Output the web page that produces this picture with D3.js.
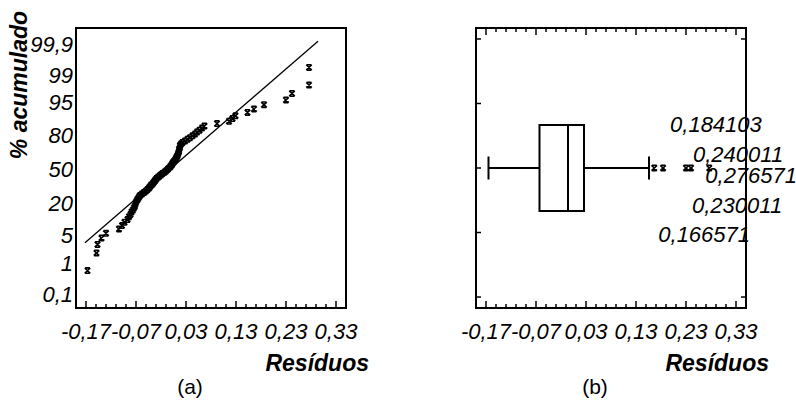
<!DOCTYPE html>
<html>
<head>
<meta charset="utf-8">
<script src="https://cdn.jsdelivr.net/npm/d3@7"></script>
<style>
  body { margin: 0; background: #fff; }
  svg { display: block; font-family: "Liberation Sans", Arial, sans-serif; }
</style>
</head>
<body>
<svg id="chart" width="796" height="401"></svg>
<script>
// sorted residuals (a)
const residuals = [
  -0.167, -0.149, -0.147, -0.139, -0.130, -0.104, -0.098, -0.093, -0.087, -0.084,
  -0.081, -0.079, -0.076, -0.074, -0.072, -0.071, -0.070, -0.068, -0.066, -0.064,
  -0.062, -0.058, -0.054, -0.050, -0.047, -0.044, -0.042, -0.040, -0.037, -0.035,
  -0.033, -0.031, -0.029, -0.026, -0.023, -0.020, -0.017, -0.013, -0.010, -0.007,
  -0.005, -0.002, 0.000, 0.002, 0.003, 0.005, 0.007, 0.009, 0.010, 0.012,
  0.013, 0.014, 0.015, 0.016, 0.016, 0.017, 0.018, 0.018, 0.020, 0.023,
  0.028, 0.033, 0.038, 0.043, 0.048, 0.052, 0.057, 0.062, 0.067, 0.092,
  0.116, 0.123, 0.129, 0.153, 0.166, 0.186, 0.230, 0.242, 0.276, 0.276
];
// cumulative percentage of each point
const cumPct = [
  0.6, 1.9, 3.1, 4.4, 5.6, 6.9, 8.1, 9.4, 10.6, 11.9,
  13.1, 14.4, 15.6, 16.9, 18.1, 19.4, 20.6, 21.9, 23.1, 24.4,
  25.6, 26.9, 28.1, 29.4, 30.6, 31.9, 33.1, 34.4, 35.6, 36.9,
  38.1, 39.4, 40.6, 41.9, 43.1, 44.4, 45.6, 46.9, 48.1, 49.4,
  50.6, 51.9, 53.1, 54.4, 55.6, 56.9, 58.1, 59.4, 60.6, 61.9,
  63.1, 64.4, 65.6, 66.9, 68.1, 69.4, 70.6, 71.9, 73.1, 74.4,
  75.6, 76.9, 78.1, 79.4, 80.6, 81.9, 83.1, 84.4, 85.6, 86.9,
  88.1, 89.4, 90.6, 91.9, 93.1, 94.4, 95.6, 96.9, 98.1, 99.4
];
const fitLine = [[-0.172, 3.42], [0.294, 99.92]];

const probTicks = [0.1, 1, 5, 20, 50, 80, 95, 99, 99.9];
const probLabels = ["0,1", "1", "5", "20", "50", "80", "95", "99", "99,9"];
const xTicks = [-0.17, -0.07, 0.03, 0.13, 0.23, 0.33];

// box plot (b): min, q1, median, q3, max whisker
const boxStats = [-0.165, -0.063, -0.006, 0.026, 0.156];
const outliers = [0.166571, 0.184103, 0.230011, 0.240011, 0.276571];
const outlierLabels = ["0,166571", "0,184103", "0,230011", "0,240011", "0,276571"];

const W = 270, H = 280;
const svg = d3.select("#chart");

const fmt = d3.formatLocale({ decimal: ",", thousands: ".", grouping: [3], currency: ["", ""], minus: "-" }).format(".2f");

// inverse normal cdf (Acklam) for the probability axis
function probit(p) {
    const a = [-39.69683028665376, 220.9460984245205, -275.9285104469687, 138.3577518672690, -30.66479806614716, 2.506628277459239];
    const b = [-54.47609879822406, 161.5858368580409, -155.6989798598866, 66.80131188771972, -13.28068155288572];
    const c = [-0.007784894002430293, -0.3223964580411365, -2.400758277161838, -2.549732539343734, 4.374664141464968, 2.938163982698783];
    const d = [0.007784695709041462, 0.3224671290700398, 2.445134137142996, 3.754408661907416];
    const pl = 0.02425;
    if (p < pl) {
        const q = Math.sqrt(-2 * Math.log(p));
        return (((((c[0]*q+c[1])*q+c[2])*q+c[3])*q+c[4])*q+c[5]) / ((((d[0]*q+d[1])*q+d[2])*q+d[3])*q+1);
    }
    if (p > 1 - pl) {
        const q = Math.sqrt(-2 * Math.log(1 - p));
        return -(((((c[0]*q+c[1])*q+c[2])*q+c[3])*q+c[4])*q+c[5]) / ((((d[0]*q+d[1])*q+d[2])*q+d[3])*q+1);
    }
    const q = p - 0.5, r = q * q;
    return (((((a[0]*r+a[1])*r+a[2])*r+a[3])*r+a[4])*r+a[5])*q / (((((b[0]*r+b[1])*r+b[2])*r+b[3])*r+b[4])*r+1);
}

const glyph = "M-2.8,-2.6L2.8,2.6M2.8,-2.6L-2.8,2.6M-2.4,-2.7H2.4M-2.4,2.7H2.4";

function panelBase(tx, ty, topTicks) {
    const g = svg.append("g").attr("transform", `translate(${tx},${ty})`);
    const x = d3.scaleLinear().domain([-0.19, 0.35]).range([0, W]);
    const minor = d3.range(-0.17, 0.3301, 0.02);

    const ticks = g.append("g");
    ticks.selectAll(".tb").data(minor).join("line")
        .attr("x1", d => x(d)).attr("x2", d => x(d))
        .attr("y1", H).attr("y2", (d, i) => H - (i % 5 === 0 ? 7 : 4))
        .attr("stroke", "#000").attr("stroke-width", 1.5);
    if (topTicks) {
        ticks.selectAll(".tt").data(minor).join("line")
            .attr("x1", d => x(d)).attr("x2", d => x(d))
            .attr("y1", 0).attr("y2", (d, i) => (i % 5 === 0 ? 7 : 4))
            .attr("stroke", "#000").attr("stroke-width", 1.5);
    }

    g.selectAll(".xl").data(xTicks).join("text")
        .attr("x", d => x(d)).attr("y", H + 31)
        .attr("text-anchor", "middle")
        .style("font-size", "22px").style("font-style", "italic")
        .text(d => fmt(d));

    g.append("text")
        .attr("x", W + 23).attr("y", H + 63)
        .attr("text-anchor", "end")
        .style("font-size", "23px").style("font-weight", "bold").style("font-style", "italic")
        .text("Resíduos");

    return { g, x };
}

// ---- (a) normal probability plot
{
    const { g, x } = panelBase(76, 28, false);
    const yZ = d3.scaleLinear().domain([-3.09, 3.09]).range([266, 16]);
    const y = p => yZ(probit(p / 100));

    g.selectAll(".yl").data(probTicks).join("text")
        .attr("x", -3).attr("y", d => y(d)).attr("dy", "0.36em")
        .attr("text-anchor", "end")
        .style("font-size", "22px").style("font-style", "italic")
        .text((d, i) => probLabels[i]);

    g.append("path")
        .attr("d", d3.line().x(d => x(d[0])).y(d => y(d[1]))(fitLine))
        .attr("fill", "none").attr("stroke", "#000").attr("stroke-width", 1.3);

    g.selectAll(".pt").data(residuals).join("path")
        .attr("transform", (d, i) => `translate(${x(d)},${y(cumPct[i])})`)
        .attr("d", glyph)
        .attr("fill", "none").attr("stroke", "#000").attr("stroke-width", 1.6);

    g.append("rect").attr("width", W).attr("height", H)
        .attr("fill", "none").attr("stroke", "#000").attr("stroke-width", 2);

    svg.append("text")
        .attr("transform", "translate(27,85) rotate(-90)")
        .attr("text-anchor", "middle")
        .style("font-size", "23px").style("font-weight", "bold").style("font-style", "italic")
        .text("% acumulado");

    svg.append("text").attr("x", 190).attr("y", 394).attr("text-anchor", "middle")
        .style("font-size", "21px").text("(a)");
}

// ---- (b) box-and-whisker plot
{
    const { g, x } = panelBase(476, 28, true);
    const band = d3.scaleBand().domain(["res"]).range([0, H]).paddingOuter(1.128).paddingInner(0);
    const yT = d3.scaleLinear().domain([-2.17, 2.17]).range([H, 0]);
    const cy = band("res") + band.bandwidth() / 2;
    const [mn, q1, md, q3, mx] = boxStats;

    g.selectAll(".yt").data(yT.ticks(5).filter(d => Number.isInteger(d))).join("line")
        .attr("x1", 0).attr("x2", 5).attr("y1", d => yT(d)).attr("y2", d => yT(d))
        .attr("stroke", "#000").attr("stroke-width", 1.5);
    g.selectAll(".yr").data([-2, 2]).join("line")
        .attr("x1", W).attr("x2", W - 5).attr("y1", d => yT(d)).attr("y2", d => yT(d))
        .attr("stroke", "#000").attr("stroke-width", 1.5);

    const box = g.append("g").attr("stroke", "#000").attr("stroke-width", 2).attr("fill", "none");
    box.append("line").attr("x1", x(mn)).attr("x2", x(q1)).attr("y1", cy).attr("y2", cy);
    box.append("line").attr("x1", x(q3)).attr("x2", x(mx)).attr("y1", cy).attr("y2", cy);
    box.selectAll(".cap").data([mn, mx]).join("line")
        .attr("x1", d => x(d)).attr("x2", d => x(d))
        .attr("y1", cy - 11.5).attr("y2", cy + 11.5);
    box.append("rect")
        .attr("x", x(q1)).attr("width", x(q3) - x(q1))
        .attr("y", band("res")).attr("height", band.bandwidth());
    box.append("line").attr("x1", x(md)).attr("x2", x(md))
        .attr("y1", band("res")).attr("y2", band("res") + band.bandwidth());

    g.selectAll(".ol").data(outliers).join("path")
        .attr("transform", d => `translate(${x(d)},${cy})`)
        .attr("d", glyph)
        .attr("fill", "none").attr("stroke", "#000").attr("stroke-width", 1.5);

    // label placement (dx, dy from the outlier)
    const labelPos = [[4, 74], [7, -36], [6, 45], [2, -6], [-4, 15]];
    g.selectAll(".olt").data(outliers).join("text")
        .attr("x", (d, i) => x(d) + labelPos[i][0])
        .attr("y", (d, i) => cy + labelPos[i][1])
        .style("font-size", "22px").style("font-style", "italic")
        .text((d, i) => outlierLabels[i]);

    g.append("rect").attr("width", W).attr("height", H)
        .attr("fill", "none").attr("stroke", "#000").attr("stroke-width", 2);

    svg.append("text").attr("x", 595).attr("y", 394).attr("text-anchor", "middle")
        .style("font-size", "21px").text("(b)");
}
</script>
</body>
</html>
